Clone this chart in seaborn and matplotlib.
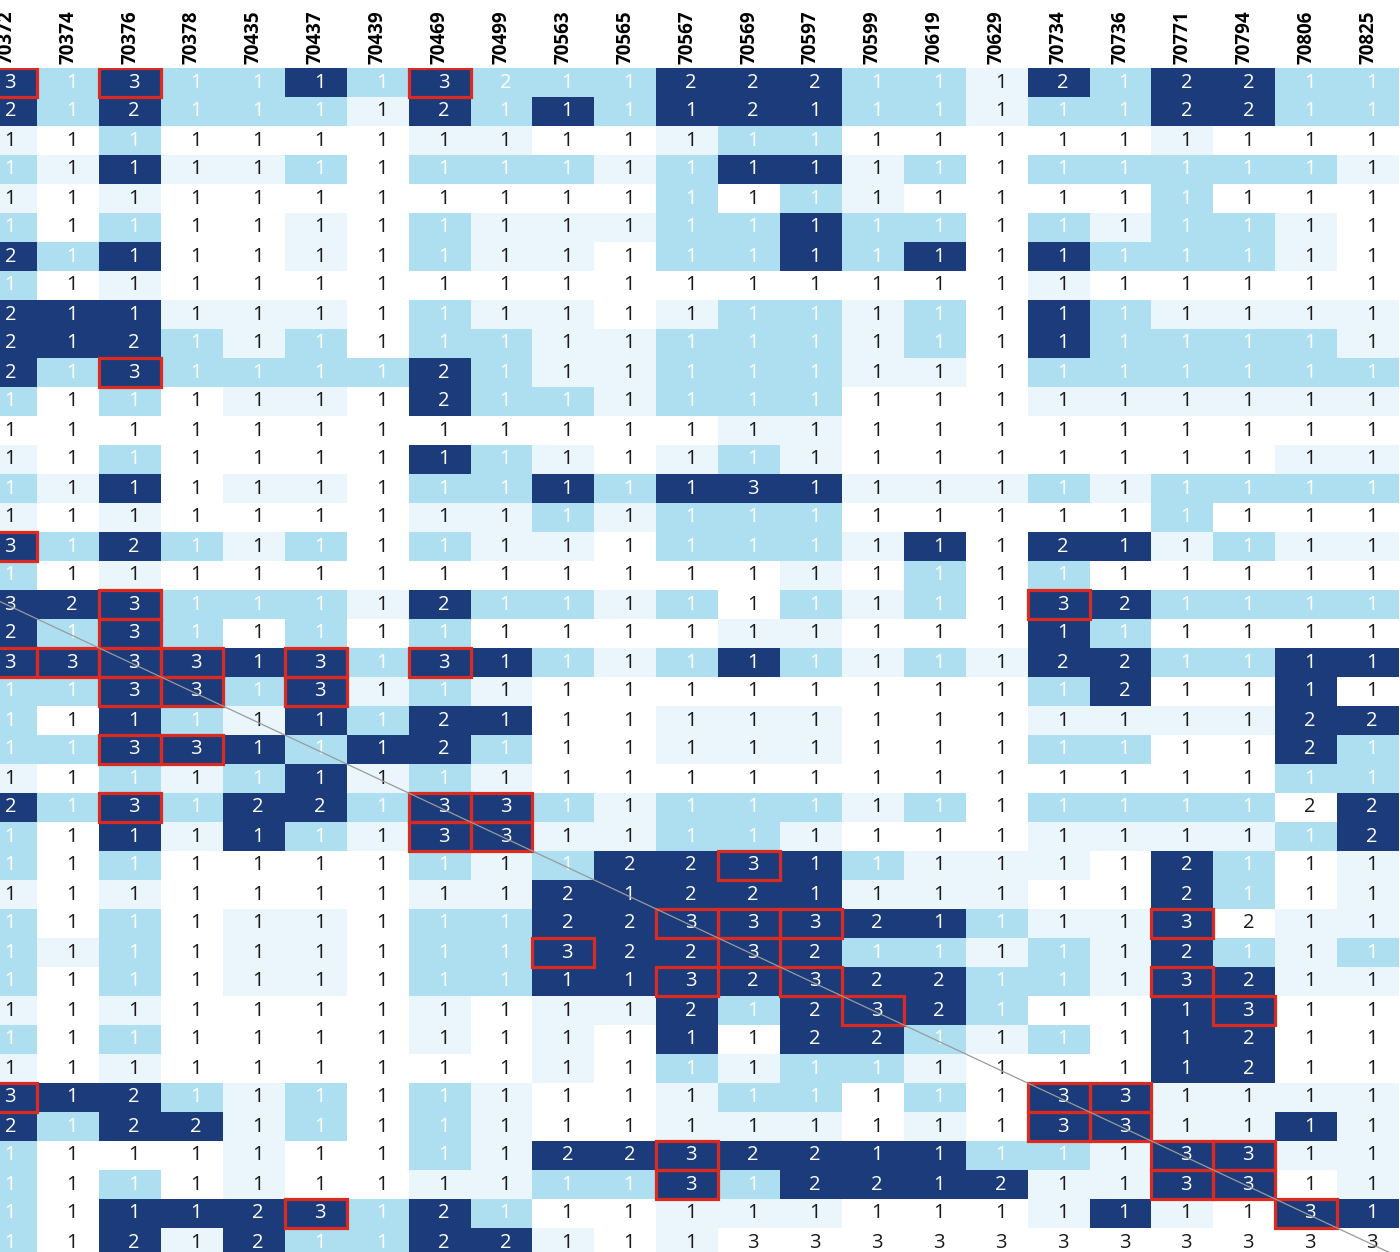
import numpy as np
import matplotlib
matplotlib.use("Agg")
import matplotlib.pyplot as plt
import seaborn as sns
from matplotlib.colors import ListedColormap
from matplotlib.patches import Rectangle

plt.rcParams["font.family"] = ["Open Sans", "DejaVu Sans"]

# column ids (x axis, shown on top)
columns = ["70372", "70374", "70376", "70378", "70435", "70437", "70439",
           "70469", "70499", "70563", "70565", "70567", "70569", "70597",
           "70599", "70619", "70629", "70734", "70736", "70771", "70794",
           "70806", "70825"]

# number printed in each cell, one string per row
counts = [
    "31311113211222111212211",
    "21211112111121111112211",
    "11111111111111111111111",
    "11111111111111111111111",
    "11111111111111111111111",
    "11111111111111111111111",
    "21111111111111111111111",
    "11111111111111111111111",
    "21111111111111111111111",
    "21211111111111111111111",
    "21311112111111111111111",
    "11111112111111111111111",
    "11111111111111111111111",
    "11111111111111111111111",
    "11111111111131111111111",
    "11111111111111111111111",
    "31211111111111111211111",
    "11111111111111111111111",
    "32311112111111111321111",
    "21311111111111111111111",
    "33331313111111111221111",
    "11331311111111111121111",
    "11111112111111111111122",
    "11331112111111111111121",
    "11111111111111111111111",
    "21312213311111111111122",
    "11111113311111111111112",
    "11111111112231111112111",
    "11111111121221111112111",
    "11111111122333211113211",
    "11111111132232111112111",
    "11111111111323221113211",
    "11111111111212321111311",
    "11111111111112211111211",
    "11111111111111111111211",
    "31211111111111111331111",
    "21221111111111111331111",
    "11111111122322111113311",
    "11111111111312212113311",
    "11112312111111111111131",
    "11212112211133333333333",
]

# shade class of each cell: 0 white, 1 pale, 2 light blue, 3 navy
shades = [
    "32322323222333221323322",
    "32322213232333221223322",
    "10200001100122000001000",
    "21311202221233120222221",
    "10100000000202100002000",
    "20200102111223220212210",
    "32300102110223230322210",
    "20100000000000000100000",
    "33311102110122120321111",
    "33321202211222120322221",
    "32322223211222110222222",
    "20201103221222000111111",
    "00000000000011000000000",
    "10200003210121000000011",
    "21301102232333111212222",
    "10100001121222000002000",
    "32321202110222130331211",
    "20100000000001020200000",
    "33322213221202120332222",
    "32320202000011000320000",
    "33333323321232121332233",
    "22332312100000000230030",
    "20321323300111000111133",
    "22333233200111000220032",
    "10212312100000000000022",
    "32323323321222120222203",
    "20313213311221000111123",
    "20200002123333211103201",
    "10100001133333111003201",
    "20201102233333332113011",
    "21201102233333221213212",
    "20201102233333332213311",
    "10100001011323332003300",
    "20200001010303321203300",
    "10100000010212210003300",
    "33321202100122020331111",
    "32331202100111010331131",
    "20001002133333332213311",
    "20201001122323333113301",
    "20333323200111000131033",
    "20313223310100000000000",
]

# highlighted cells (row, column)
boxed = [(0, 0), (0, 2), (0, 7), (10, 2), (16, 0), (18, 2), (18, 17),
         (19, 2), (20, 0), (20, 1), (20, 2), (20, 3), (20, 5), (20, 7),
         (21, 2), (21, 3), (21, 5), (23, 2), (23, 3), (25, 2), (25, 7),
         (25, 8), (26, 7), (26, 8), (27, 12), (29, 11), (29, 12), (29, 13),
         (29, 19), (30, 9), (30, 12), (31, 11), (31, 13), (31, 19),
         (32, 14), (32, 20), (35, 0), (35, 17), (35, 18), (36, 17),
         (36, 18), (37, 11), (37, 19), (37, 20), (38, 11), (38, 19),
         (38, 20), (39, 5), (39, 21)]

# the matrix diagonal runs through this crop shifted by this many rows
diag_offset = 18

vals = np.array([[int(ch) for ch in row] for row in counts])
lvl = np.array([[int(ch) for ch in row] for row in shades])

palette = ["#ffffff", "#eaf6fb", "#addff1", "#1b3b7a"]

fig = plt.figure(figsize=(14, 12.52), dpi=100)
ax = fig.add_axes([-24.7 / 1400, -5 / 1252, 1423.7 / 1400, 1189 / 1252])

sns.heatmap(lvl, cmap=ListedColormap(palette), vmin=-0.5, vmax=3.5,
            annot=vals, fmt="d", cbar=False, ax=ax,
            xticklabels=columns, yticklabels=False,
            annot_kws={"fontsize": 14.5})

# white text on the blue cells, dark text on the pale ones
for t in ax.texts:
    x, y = t.get_position()
    r, c = int(y), int(x)
    t.set_color("white" if lvl[r, c] >= 2 else "#1a1a1a")
    t.set_x(x + 0.065)

for r, c in boxed:
    ax.add_patch(Rectangle((c, r), 1, 1, fill=False, edgecolor="#dc2a20",
                           lw=2.3, zorder=4))

n = len(columns)
ax.plot([0, n], [diag_offset, n + diag_offset], color="#9a9a9a", lw=0.9,
        zorder=5)

ax.xaxis.tick_top()
ax.set_xticklabels(columns, rotation=90, fontweight="bold", fontsize=13.5)
ax.tick_params(axis="x", length=0, pad=3)
ax.set_yticks([])
ax.set_xlabel("")
ax.set_ylabel("")

fig.savefig("out.png", dpi=100)
